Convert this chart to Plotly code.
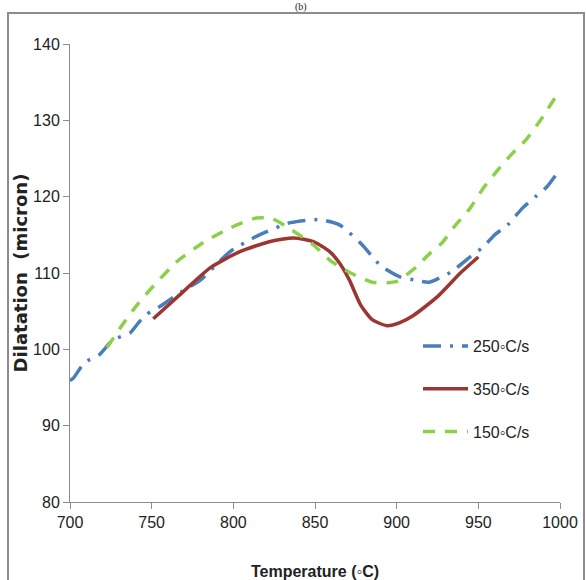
import plotly.graph_objects as go

# 250 °C/s series
t250 = [700, 702, 709, 718, 726, 737, 742, 747, 755, 768, 780, 798, 816, 835, 853, 865,
        878, 890, 902, 913, 920, 933, 945, 953, 960, 968, 977, 985, 992, 999]
d250 = [95.9, 96.2, 98.3, 99.3, 101.2, 102.2, 103.5, 104.6, 105.6, 107.5, 109.1, 112.8,
        115.0, 116.6, 117.0, 116.3, 113.9, 111.0, 109.5, 109.0, 108.8, 110.1, 112.1,
        113.4, 115.0, 116.3, 118.5, 120.0, 121.3, 123.3]

# 350 °C/s series
t350 = [751, 767, 786, 804, 822, 837, 849, 859, 865, 871, 878, 885, 894, 902, 910, 925, 939, 950]
d350 = [104.0, 107.1, 110.7, 112.8, 114.1, 114.6, 114.1, 112.8, 111.3, 109.1, 105.8,
        103.9, 103.1, 103.5, 104.4, 106.9, 110.0, 112.1]

# 150 °C/s series
t150 = [722.6, 732, 741, 749, 765, 781, 798, 814, 824, 836, 849, 859, 871, 885, 900, 912,
        920, 928, 935, 945, 953, 962, 971, 979, 988, 998]
d150 = [100.2, 103.2, 105.8, 107.8, 111.4, 113.9, 115.9, 117.2, 117.1, 115.6, 113.7,
        111.7, 110.1, 108.8, 108.9, 110.8, 112.5, 114.0, 116.0, 118.5, 121.1, 123.5,
        125.7, 127.4, 130.0, 133.3]

names = ["250\u25e6C/s", "350\u25e6C/s", "150\u25e6C/s"]
x_ticks = [700, 750, 800, 850, 900, 950, 1000]
y_ticks = [80, 90, 100, 110, 120, 130, 140]

FONT = "Liberation Sans, Arial, sans-serif"

fig = go.Figure()
fig.add_trace(go.Scatter(x=t250, y=d250, mode="lines", name=names[0], legendgroup="a",
                         line=dict(color="#4a7ebb", width=3.5, dash="18px,9px,3px,9px", shape="spline", smoothing=0.6)))
fig.add_trace(go.Scatter(x=t350, y=d350, mode="lines", name=names[1], legendgroup="b",
                         line=dict(color="#9b3633", width=3.5, shape="spline", smoothing=0.6)))
fig.add_trace(go.Scatter(x=t150, y=d150, mode="lines", name=names[2], legendgroup="c",
                         line=dict(color="#8cd04a", width=3.5, dash="12px,10px", shape="spline", smoothing=0.6)))

L, R, T, B = 70, 26, 44, 78
W, H = 586, 580
pw, ph = W - L - R, H - T - B


def px(x):
    return (x - L) / pw


def py(y):
    return (H - B - y) / ph


fig.update_layout(
    width=W, height=H,
    margin=dict(l=L, r=R, t=T, b=B),
    paper_bgcolor="white", plot_bgcolor="white",
    font=dict(family=FONT, size=16, color="#222"),
    showlegend=True,
    legend=dict(x=px(418), y=py(329), xanchor="left", yanchor="top",
                bgcolor="rgba(0,0,0,0)", itemwidth=45, tracegroupgap=19,
                font=dict(family=FONT, size=16, color="#222")),
    xaxis=dict(range=[700, 1000], tickvals=x_ticks, showgrid=False, zeroline=False,
               showline=True, linecolor="#8c8c8c", linewidth=1, automargin=False,
               ticks="outside", ticklen=6, tickcolor="#8c8c8c",
               tickfont=dict(family=FONT, size=16),
               title=dict(text="<b>Temperature (\u25e6C)</b>", standoff=38,
                          font=dict(family=FONT, size=16))),
    yaxis=dict(range=[80, 140], tickvals=y_ticks, showgrid=False, zeroline=False,
               showline=True, linecolor="#8c8c8c", linewidth=1, automargin=False,
               ticks="outside", ticklen=6, tickcolor="#8c8c8c",
               tickfont=dict(family=FONT, size=16),
               title=dict(text="<b>Dilatation  (micron)</b>", standoff=0,
                          font=dict(family="DejaVu Sans, Verdana, sans-serif", size=18))),
    shapes=[
        dict(type="rect", xref="paper", yref="paper",
             x0=px(8), x1=px(584), y0=py(595), y1=py(13),
             line=dict(color="#8c8c8c", width=2), fillcolor="rgba(0,0,0,0)", layer="below"),
    ],
    annotations=[
        dict(text="(b)", xref="paper", yref="paper", x=px(301), y=py(7),
             xanchor="center", yanchor="middle", showarrow=False, borderpad=0,
             font=dict(family="Liberation Serif, Times New Roman, serif", size=10, color="#222")),
    ],
)

fig.write_html("out.html")
